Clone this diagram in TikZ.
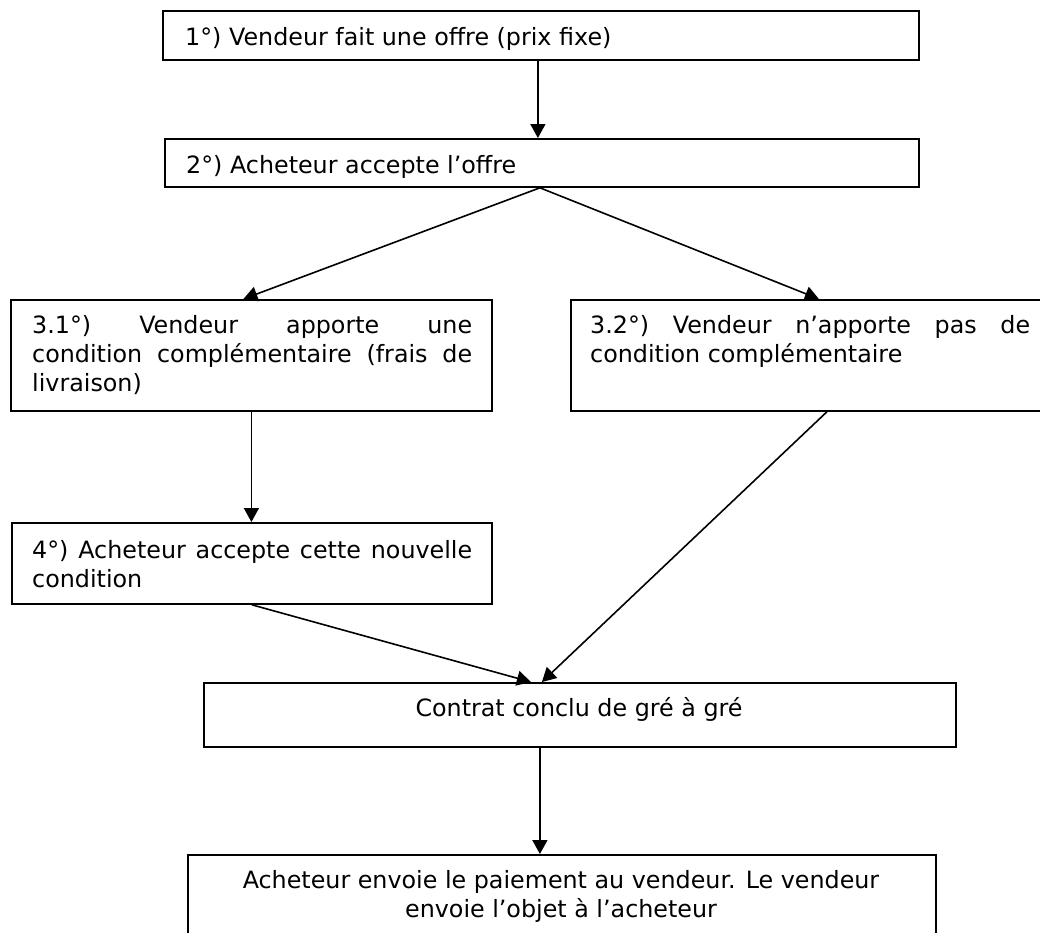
\documentclass[tikz,border=0pt]{standalone}
\usepackage{fontspec}
\setmainfont{DejaVu Sans}
\usetikzlibrary{arrows.meta}
\hbadness=10000
\begin{document}
\begin{tikzpicture}[x=1pt,y=-1pt,
  box/.style={draw=black, line width=1.8pt, rectangle, inner sep=0pt, anchor=north west},
  txt/.style={inner sep=0pt, font=\fontsize{23.8pt}{29.4pt}\selectfont},
  arr/.style={line width=1.6pt, -{Triangle[length=14pt,width=15pt]}}]
\fill[white] (0,0) rectangle (1040,932);
\useasboundingbox (0,0) rectangle (1040,932);
% boxes
\node[box, minimum width=756pt, minimum height=49pt] (b1) at (162,10) {};
\node[box, minimum width=754pt, minimum height=48pt] (b2) at (164,138) {};
\node[box, minimum width=481pt, minimum height=111pt] (b31) at (10,299) {};
\node[box, minimum width=482pt, minimum height=111pt] (b32) at (570,299) {};
\node[box, minimum width=480pt, minimum height=81pt] (b4) at (11,522) {};
\node[box, minimum width=752pt, minimum height=64pt] (bc) at (203,682) {};
\node[box, minimum width=748pt, minimum height=90pt] (bf) at (187,854) {};
% texts
\node[txt, anchor=base west] (t1) at (185,45) {1°) Vendeur fait une offre (prix fixe)};
\node[txt, anchor=base west] (t2) at (186,173) {2°) Acheteur accepte l’offre};
\node[txt, anchor=base west] (t31) at (32,333) {\parbox[t]{440pt}{\hyphenpenalty=10000 3.1°) Vendeur apporte une\linebreak condition complémentaire (frais de\linebreak livraison)}};
\node[txt, anchor=base west] (t32) at (590,333) {\parbox[t]{440pt}{\hyphenpenalty=10000 3.2°) Vendeur n’apporte pas de\linebreak condition complémentaire}};
\node[txt, anchor=base west] (t4) at (32,558) {\parbox[t]{440pt}{\hyphenpenalty=10000 4°) Acheteur accepte cette nouvelle\linebreak condition}};
\node[txt, anchor=base] (tc) at (579,716) {Contrat conclu de gré à gré};
\node[txt, anchor=base] (tf) at (561,888) {\parbox[t]{720pt}{\centering Acheteur envoie le paiement au vendeur. Le vendeur\\ envoie l’objet à l’acheteur}};
% connectors
\draw[arr] ([xshift=-3pt]b1.south) -- ([xshift=-3pt]b1.south |- b2.north);
\draw[arr] ([xshift=-2pt]b2.south) -- ([xshift=-8pt]b31.north);
\draw[arr] ([xshift=-2pt]b2.south) -- ([xshift=7pt]b32.north);
\draw[arr] (b31.south) -- (b31.south |- b4.north);
\draw[arr] (b4.south) -- ([xshift=-49pt]bc.north);
\draw[arr] ([xshift=15pt]b32.south) -- ([xshift=-38pt]bc.north);
\draw[arr] ([xshift=-40pt]bc.south) -- ([xshift=-40pt]bc.south |- bf.north);
\end{tikzpicture}
\end{document}
